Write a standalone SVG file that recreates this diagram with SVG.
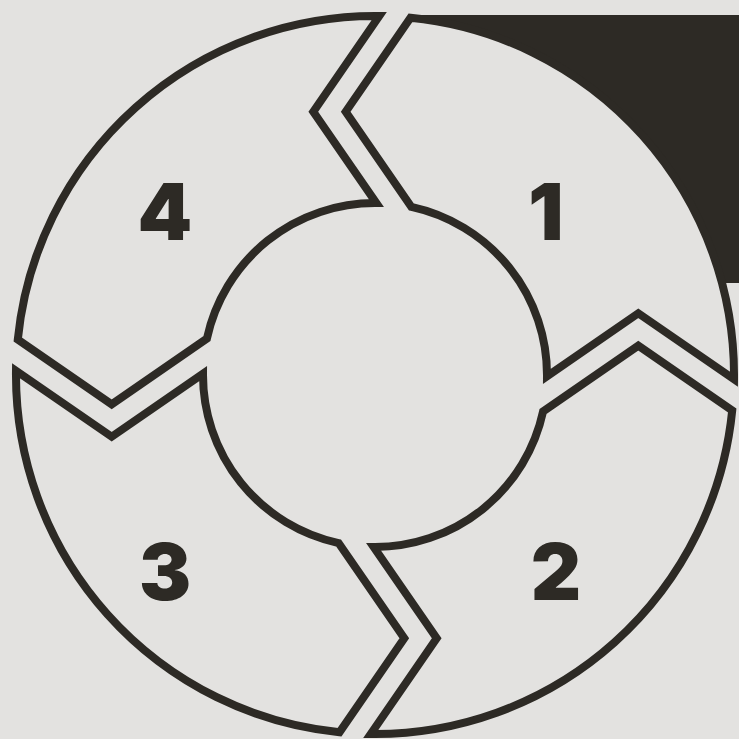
<svg xmlns="http://www.w3.org/2000/svg" xmlns:xlink="http://www.w3.org/1999/xlink" width="739" height="739" viewBox="0 0 739 739">
  <style>
    .seg { fill: #e3e2e0; stroke: #2d2a25; stroke-width: 8; stroke-linejoin: miter; stroke-miterlimit: 10; }
    .num { font-family: Inter, "Liberation Sans", sans-serif; font-weight: 900; font-size: 78px; fill: #2d2a25; text-anchor: middle; }
  </style>
  <defs>
    <path id="segment" d="M 35.5 -357.2 A 359 359 0 0 1 359 4.3 L 263.3 -61.7 L 172 1.3 A 172 172 0 0 0 36.4 -168.1 L -29.3 -263.3 Z"/>
  </defs>
  <rect width="739" height="739" fill="#e3e2e0"/>
  <rect id="accent" x="410" y="15" width="329" height="268" fill="#2d2a25"/>
  <circle cx="375" cy="375" r="174" fill="#e3e2e0"/>
  <g id="step1">
    <use xlink:href="#segment" href="#segment" class="seg" transform="translate(375 375)"/>
    <text class="num" x="546" y="240">1</text>
  </g>
  <g id="step2">
    <use xlink:href="#segment" href="#segment" class="seg" transform="translate(375 375) rotate(90)"/>
    <text class="num" x="556" y="600">2</text>
  </g>
  <g id="step3">
    <use xlink:href="#segment" href="#segment" class="seg" transform="translate(375 375) rotate(180)"/>
    <text class="num" x="165" y="600">3</text>
  </g>
  <g id="step4">
    <use xlink:href="#segment" href="#segment" class="seg" transform="translate(375 375) rotate(270)"/>
    <text class="num" x="165" y="240">4</text>
  </g>
</svg>
